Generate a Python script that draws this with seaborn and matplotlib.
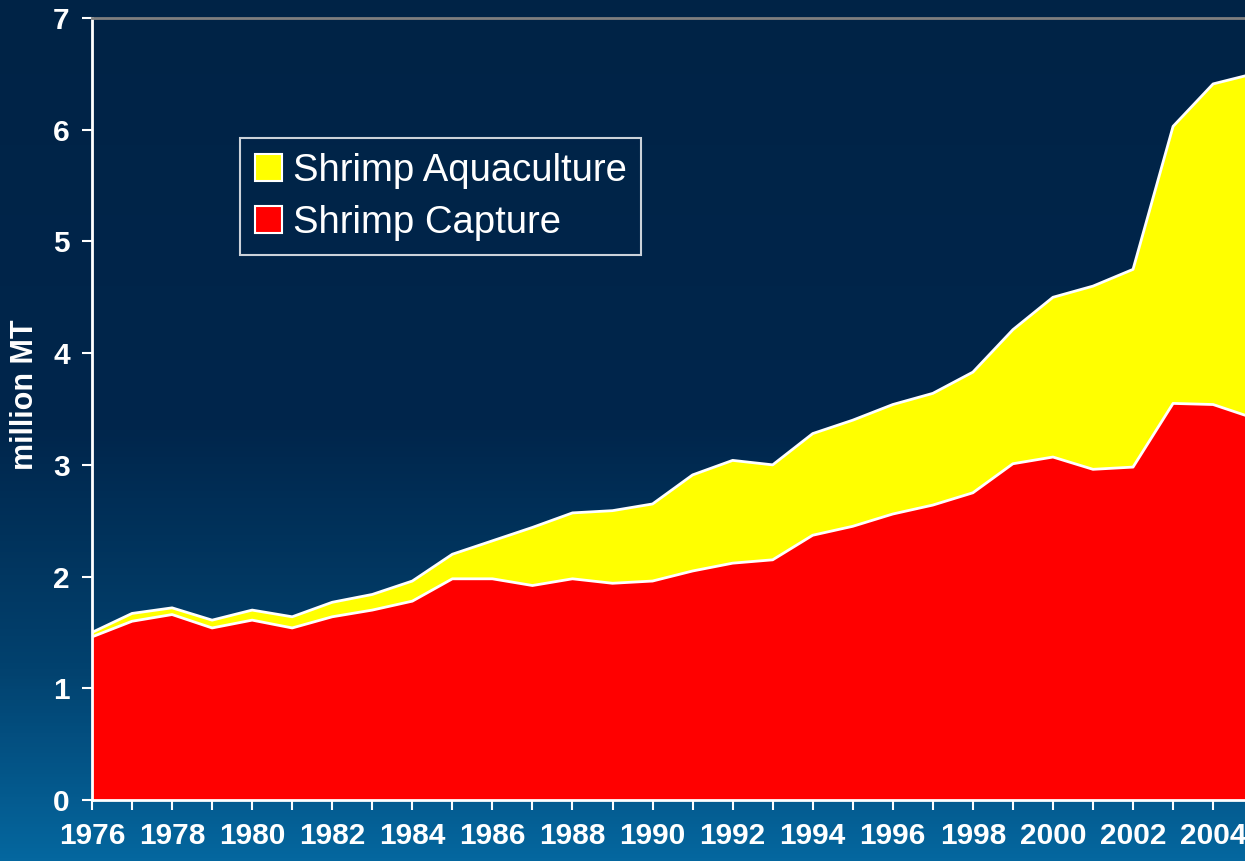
import numpy as np
import pandas as pd
import matplotlib
matplotlib.use("Agg")
import matplotlib.pyplot as plt
import seaborn as sns
from matplotlib.colors import LinearSegmentedColormap
from matplotlib.ticker import MultipleLocator

# Data (million MT)
years = list(range(1976, 2006))
capture = [1.46, 1.60, 1.66, 1.54, 1.61, 1.54, 1.64, 1.70, 1.78, 1.98,
           1.98, 1.92, 1.98, 1.94, 1.96, 2.05, 2.12, 2.15, 2.37, 2.45,
           2.56, 2.64, 2.75, 3.01, 3.07, 2.96, 2.98, 3.55, 3.54, 3.42]
total = [1.50, 1.67, 1.72, 1.61, 1.70, 1.64, 1.77, 1.84, 1.96, 2.20,
         2.32, 2.44, 2.57, 2.59, 2.65, 2.91, 3.04, 3.00, 3.28, 3.40,
         3.54, 3.64, 3.83, 4.21, 4.50, 4.60, 4.75, 6.03, 6.41, 6.50]

df = pd.DataFrame({"Year": years, "Capture": capture, "Total": total})
df["Aquaculture"] = df["Total"] - df["Capture"]

sns.set_style("white")
plt.rcParams["font.family"] = ["Liberation Sans", "DejaVu Sans"]

fig = plt.figure(figsize=(12.45, 8.61), dpi=100)

# background gradient
bg = fig.add_axes([0, 0, 1, 1], zorder=-10)
cmap = LinearSegmentedColormap.from_list(
    "bg", [(0.0, "#002346"), (0.5, "#00264c"), (0.78, "#02426f"), (1.0, "#05679f")])
grad = np.linspace(0, 1, 256).reshape(-1, 1)
bg.imshow(grad, aspect="auto", cmap=cmap, extent=[0, 1, 1, 0])
bg.set_axis_off()

ax = fig.add_axes([92 / 1245, 1 - 800 / 861, 1 - 92 / 1245, (800 - 18) / 861])
ax.patch.set_alpha(0)

ax.fill_between(df["Year"], 0, df["Capture"], color="#ff0000", lw=0, label="Shrimp Capture")
ax.fill_between(df["Year"], df["Capture"], df["Total"], color="#ffff00", lw=0,
                label="Shrimp Aquaculture")
sns.lineplot(data=df, x="Year", y="Capture", color="white", lw=2, ax=ax)
sns.lineplot(data=df, x="Year", y="Total", color="white", lw=2, ax=ax)

ax.set_xlim(1976, 1976 + (1245 - 92) / 40.04)
ax.set_ylim(0, 7)
ax.set_xlabel("")
ax.set_ylabel("million MT", color="white", fontsize=22, fontweight="bold")
ax.yaxis.set_label_coords(-0.045, 0.518)

ax.xaxis.set_major_locator(MultipleLocator(2))
ax.xaxis.set_minor_locator(MultipleLocator(1))
ax.yaxis.set_major_locator(MultipleLocator(1))
ax.tick_params(axis="both", which="both", direction="out", color="white", width=1.5,
               length=7, labelcolor="white", labelsize=21.5)
ax.tick_params(axis="x", which="both", bottom=True, pad=9)
ax.tick_params(axis="y", left=True, pad=9)
for lab in ax.get_xticklabels() + ax.get_yticklabels():
    lab.set_fontweight("bold")

for side in ["left", "bottom"]:
    ax.spines[side].set_color("white")
    ax.spines[side].set_linewidth(2)
ax.spines["top"].set_color("#7f7f7f")
ax.spines["top"].set_linewidth(2)
ax.spines["right"].set_visible(False)

handles, labels = ax.get_legend_handles_labels()
order = [labels.index("Shrimp Aquaculture"), labels.index("Shrimp Capture")]
leg = ax.legend([handles[i] for i in order], [labels[i] for i in order],
                loc="upper left", bbox_to_anchor=((240 - 92) / 1153, (800 - 138) / 782),
                borderaxespad=0, fontsize=27.5, frameon=True, fancybox=False,
                handlelength=0.72, handleheight=0.72, handletextpad=0.28,
                labelspacing=0.42, borderpad=0.38, labelcolor="white")
leg.get_frame().set_facecolor("#002449")
leg.get_frame().set_edgecolor("white")
leg.get_frame().set_linewidth(1.5)
for h in leg.legend_handles:
    h.set_edgecolor("white")
    h.set_linewidth(1.5)

fig.savefig("out.png", dpi=100)
